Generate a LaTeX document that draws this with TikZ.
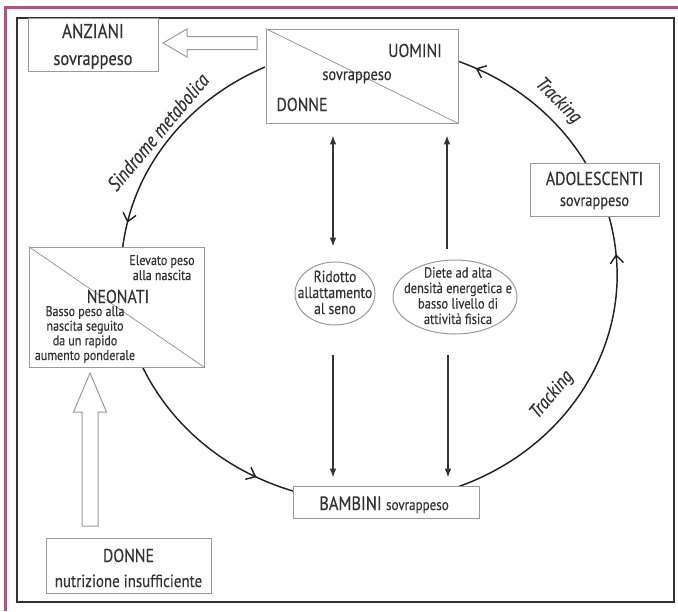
\documentclass[tikz,border=0pt]{standalone}
\usepackage{fontspec}
\setmainfont[FakeStretch=0.85, FakeBold=0.4]{PT Sans}
\usetikzlibrary{arrows.meta,shapes.geometric,calc}
\definecolor{pinkline}{HTML}{B5508A}
\definecolor{boxgray}{HTML}{9A9A9A}
\definecolor{txt}{HTML}{333333}
\definecolor{flowc}{HTML}{222222}
\tikzset{
  box/.style={draw=boxgray, line width=0.75pt, fill=white, inner sep=0pt},
  ellbox/.style={ellipse, draw=boxgray, line width=0.75pt, fill=white, inner sep=0pt},
  lab/.style={text=txt, inner sep=0pt, font=\fontsize{14pt}{16pt}\selectfont},
  sublab/.style={text=txt, inner sep=0pt, font=\fontsize{12.7pt}{14pt}\selectfont},
  smalllab/.style={text=txt, inner sep=0pt, align=center, font=\fontsize{10.6pt}{11pt}\selectfont},
  elllab/.style={text=txt, inner sep=0pt, align=center, font=\fontsize{12pt}{12pt}\selectfont},
  ell2lab/.style={text=txt, inner sep=0pt, align=center, font=\fontsize{11pt}{11.6pt}\selectfont},
  arclab/.style={text=txt, inner sep=0pt, font=\fontsize{14.5pt}{16pt}\selectfont\itshape},
  flow/.style={draw=flowc, line width=1.1pt},
  flowtip/.style={flow, -{Straight Barb[length=6pt,width=10pt,line width=1.1pt]}},
  vline/.style={draw=txt, line width=1.5pt},
  hollow/.style={draw=boxgray, line width=0.75pt, fill=white},
  earc/.style={x radius=186pt, y radius=171pt},
}
\begin{document}
\begin{tikzpicture}[x=0.75pt, y=-0.75pt]
\useasboundingbox (0,0) rectangle (678,611);
% page frame
\draw[pinkline, line width=2.25pt] (5,611) -- (5,7) -- (678,7);
\draw[txt, line width=1.5pt] (17,18) rectangle (674,602);

% ellipse centre
\coordinate (c) at (369,274);

% cycle arcs
\draw[flowtip] ($(c)+(114.8:186pt and 171pt)$) arc[earc, start angle=114.8, end angle=167];
\draw[flow] ($(c)+(166:186pt and 171pt)$) arc[earc, start angle=166, end angle=174];
\draw[flowtip] ($(c)+(204:186pt and 171pt)$) arc[earc, start angle=204, end angle=243];
\draw[flow] ($(c)+(242:186pt and 171pt)$) arc[earc, start angle=242, end angle=253];
\draw[flowtip] ($(c)+(291:186pt and 171pt)$) arc[earc, start angle=291, end angle=365];
\draw[flow] ($(c)+(364:186pt and 171pt)$) arc[earc, start angle=364, end angle=376];
\draw[flowtip] ($(c)+(29:186pt and 171pt)$) arc[earc, start angle=29, end angle=64.5];
\draw[flow] ($(c)+(63.5:186pt and 171pt)$) arc[earc, start angle=63.5, end angle=71];

% boxes
\node[box, minimum width=97.5pt, minimum height=39.75pt] (anziani) at (93,44.5) {};
\node[box, minimum width=144pt, minimum height=70.5pt] (uomini) at (362,76) {};
\node[box, minimum width=131.25pt, minimum height=90pt] (neonati) at (116.5,307) {};
\node[box, minimum width=96.75pt, minimum height=39.75pt] (adol) at (594.5,189.5) {};
\node[box, minimum width=139.5pt, minimum height=24pt] (bambini) at (386,502) {};
\node[box, minimum width=123.75pt, minimum height=41.25pt] (donne) at (128.5,565.5) {};
\node[ellbox, minimum width=60pt, minimum height=47.25pt] (ell1) at (335,293.5) {};
\node[ellbox, minimum width=93pt, minimum height=55.5pt] (ell2) at (455,297) {};

% diagonals
\draw[boxgray, line width=0.6pt] (uomini.north west) -- (uomini.south east);
\draw[boxgray, line width=0.6pt] (neonati.north west) -- (neonati.south east);

% box texts
\node[lab, anchor=base, font=\fontsize{15pt}{17pt}\selectfont] (tanz) at (93,38) {ANZIANI};
\node[sublab, anchor=base, font=\fontsize{14.5pt}{16pt}\selectfont] (tanzs) at (93,65) {sovrappeso};
\node[lab, anchor=base] (tuom) at (415,57) {UOMINI};
\node[sublab, anchor=base] (tuoms) at (357,80) {sovrappeso};
\node[lab, anchor=base] (tdon) at (302,111) {DONNE};
\node[smalllab, anchor=base, font=\fontsize{10.6pt}{11.25pt}\selectfont] (televato) at (162,280) {Elevato peso\\alla nascita};
\node[lab, anchor=base] (tneo) at (118,303) {NEONATI};
\node[smalllab, anchor=base] (tbasso) at (85,360) {Basso peso alla\\nascita seguito\\da un rapido\\aumento ponderale};
\node[lab, anchor=base] (tado) at (594.5,185) {ADOLESCENTI};
\node[sublab, anchor=base] (tados) at (594.5,206) {sovrappeso};
\node[anchor=base, inner sep=0pt, text=txt] (tbam) at (384,510) {\fontsize{14.5pt}{16pt}\selectfont BAMBINI \fontsize{11.5pt}{13pt}\selectfont sovrappeso};
\node[lab, anchor=base] (tdon2) at (128.5,562) {DONNE};
\node[sublab, anchor=base, font=\fontsize{13.2pt}{15pt}\selectfont] (tdon2s) at (128.5,587) {nutrizione insufficiente};
\node[elllab, anchor=base] (tell1) at (335,314) {Ridotto\\allattamento\\al seno};
\node[ell2lab, anchor=base] (tell2) at (458,324) {Diete ad alta\\densità energetica e\\basso livello di\\attività fisica};

% arc labels
\node[arclab, rotate=50, font=\fontsize{15pt}{17pt}\selectfont\itshape] (lsind) at (158,132) {Sindrome metabolica};
\node[arclab, rotate=-45] (ltr1) at (558,101) {Tracking};
\node[arclab, rotate=50] (ltr2) at (552,395) {Tracking};

% vertical arrows
\draw[vline, {Latex[length=7pt,width=5pt]}-{Latex[length=7pt,width=5pt]}] (333,135) coordinate (a1t) -- (333,247) coordinate (a1b);
\draw[vline, -{Latex[length=7pt,width=5pt]}] (447,249) coordinate (a2b) -- (447,135) coordinate (a2t);
\draw[vline, -{Latex[length=7pt,width=5pt]}] (333,355) coordinate (a3t) -- (333,478) coordinate (a3b);
\draw[vline, -{Latex[length=7pt,width=5pt]}] (448,355) coordinate (a4t) -- (448,478) coordinate (a4b);

% hollow arrows
\draw[hollow] (163,43) -- (187,29) -- (187,36.5) -- (257,36.5) -- (257,49.5) -- (187,49.5) -- (187,57) -- cycle;
\draw[hollow] (90,373) -- (73.5,412) -- (82,412) -- (82,526) -- (98,526) -- (98,412) -- (106.5,412) -- cycle;
\end{tikzpicture}
\end{document}
